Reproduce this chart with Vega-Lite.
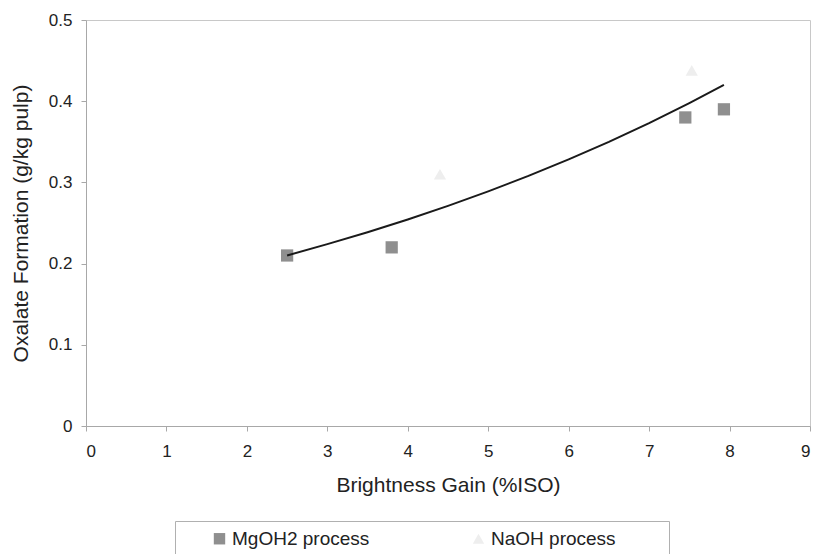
{
  "$schema": "https://vega.github.io/schema/vega-lite/v6.json",
  "autosize": {"type": "none"},
  "padding": {"left": 86, "top": 20, "right": 7, "bottom": 128},
  "width": 724,
  "height": 406,
  "background": "white",
  "config": {
    "font": "Liberation Sans",
    "view": {"stroke": "#c8c8c8", "strokeWidth": 1},
    "axis": {
      "grid": false,
      "domainColor": "#a8a8a8",
      "tickColor": "#a8a8a8",
      "tickSize": 5,
      "labelFont": "Liberation Sans",
      "labelFontSize": 17,
      "labelColor": "#222222",
      "titleFont": "Liberation Sans",
      "titleFontSize": 21,
      "titleFontWeight": "normal",
      "titleColor": "#222222",
      "format": "~g"
    }
  },
  "datasets": {
    "points": [
      {"gain": 2.5, "oxalate": 0.21, "series": "MgOH2 process"},
      {"gain": 3.8, "oxalate": 0.22, "series": "MgOH2 process"},
      {"gain": 7.45, "oxalate": 0.38, "series": "MgOH2 process"},
      {"gain": 7.93, "oxalate": 0.39, "series": "MgOH2 process"},
      {"gain": 4.4, "oxalate": 0.31, "series": "NaOH process"},
      {"gain": 7.53, "oxalate": 0.438, "series": "NaOH process"}
    ],
    "fit": [
      {"gain": 2.5, "oxalate": 0.21},
      {"gain": 3.0, "oxalate": 0.224},
      {"gain": 3.5, "oxalate": 0.2386},
      {"gain": 4.0, "oxalate": 0.2543},
      {"gain": 4.5, "oxalate": 0.2711},
      {"gain": 5.0, "oxalate": 0.289},
      {"gain": 5.5, "oxalate": 0.308},
      {"gain": 6.0, "oxalate": 0.3284},
      {"gain": 6.5, "oxalate": 0.35},
      {"gain": 7.0, "oxalate": 0.3731},
      {"gain": 7.5, "oxalate": 0.3977},
      {"gain": 7.93, "oxalate": 0.42}
    ]
  },
  "layer": [
    {
      "data": {"name": "points"},
      "mark": {"type": "point", "filled": true, "opacity": 1},
      "encoding": {
        "x": {
          "field": "gain", "type": "quantitative",
          "scale": {"domain": [0, 9], "nice": false},
          "axis": {"values": [0,1,2,3,4,5,6,7,8,9], "title": "Brightness Gain (%ISO)", "titlePadding": 15, "labelPadding": 12}
        },
        "y": {
          "field": "oxalate", "type": "quantitative",
          "scale": {"domain": [0, 0.5], "nice": false},
          "axis": {"values": [0, 0.1, 0.2, 0.3, 0.4, 0.5], "title": "Oxalate Formation (g/kg pulp)", "titlePadding": 17, "labelPadding": 9}
        },
        "color": {
          "field": "series", "type": "nominal",
          "scale": {"domain": ["MgOH2 process", "NaOH process"], "range": ["#8f8f8f", "#eeeeee"]},
          "legend": {
            "title": "\u00a0",
            "titleOrient": "right",
            "titlePadding": 45,
            "titleFontSize": 2,
            "titleColor": "#ffffff",
            "orient": "none",
            "direction": "horizontal",
            "legendX": 89,
            "legendY": 501,
            "strokeColor": "#b0b0b0",
            "padding": 8,
            "symbolOffset": 27,
            "labelFontSize": 19,
            "labelFont": "Liberation Sans",
            "labelColor": "#222222",
            "labelLimit": 300,
            "symbolSize": 130,
            "columnPadding": 72,
            "labelOffset": 3
          }
        },
        "shape": {
          "field": "series", "type": "nominal",
          "scale": {"domain": ["MgOH2 process", "NaOH process"], "range": ["square", "triangle-up"]}
        },
        "size": {"value": 150}
      }
    },
    {
      "data": {"name": "fit"},
      "mark": {"type": "line", "color": "#1a1a1a", "strokeWidth": 2},
      "encoding": {
        "x": {"field": "gain", "type": "quantitative"},
        "y": {"field": "oxalate", "type": "quantitative"}
      }
    }
  ]
}
